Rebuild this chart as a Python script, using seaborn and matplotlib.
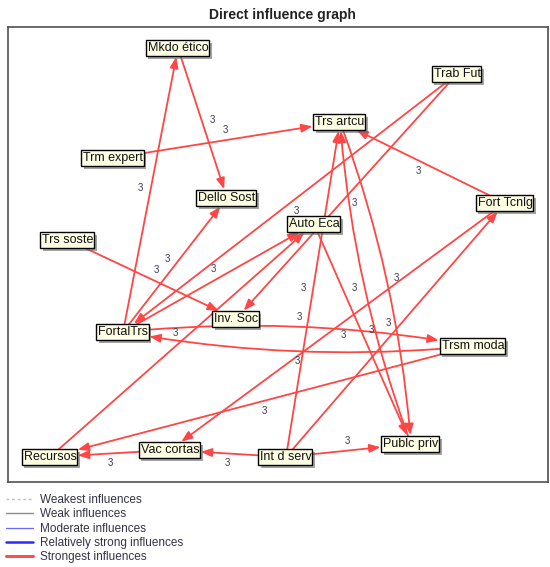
import matplotlib
matplotlib.use("Agg")
import numpy as np
import matplotlib.pyplot as plt
import matplotlib.patheffects as pe
from matplotlib.patches import Rectangle, FancyArrowPatch
from matplotlib.lines import Line2D
import seaborn as sns

# --- data: node layout (picture units) and direct influences ---
node_names = ["Mkdo ético", "Trab Fut", "Trs artcu", "Trm expert", "Dello Sost",
              "Fort Tcnlg", "Auto Eca", "Trs soste", "Inv. Soc", "FortalTrs",
              "Trsm moda", "Publc priv", "Vac cortas", "Int d serv", "Recursos"]
node_x = [178, 457, 340, 113, 227, 505, 314, 68, 236, 123, 473, 411, 170, 286, 50]
node_y = [48, 74, 122, 158, 198, 203, 224, 240, 319, 332, 346, 444, 450, 457, 457]

edge_src = ["FortalTrs", "Mkdo ético", "Trm expert", "FortalTrs", "Trab Fut",
            "Trab Fut", "FortalTrs", "Recursos", "Trs soste", "Fort Tcnlg",
            "Int d serv", "Auto Eca", "Trs artcu", "Publc priv", "FortalTrs",
            "Trsm moda", "Trsm moda", "Vac cortas", "Int d serv", "Int d serv",
            "Int d serv", "Fort Tcnlg"]
edge_dst = ["Mkdo ético", "Dello Sost", "Trs artcu", "Dello Sost", "FortalTrs",
            "Inv. Soc", "Auto Eca", "Auto Eca", "Inv. Soc", "Trs artcu",
            "Trs artcu", "Publc priv", "Publc priv", "Trs artcu", "Trsm moda",
            "FortalTrs", "Recursos", "Recursos", "Vac cortas", "Publc priv",
            "Fort Tcnlg", "Vac cortas"]
edge_weight = [3] * len(edge_src)

legend_labels = ["Weakest influences", "Weak influences", "Moderate influences",
                 "Relatively strong influences", "Strongest influences"]

sns.set_theme(style="white")
plt.rcParams["font.family"] = ["Liberation Sans", "DejaVu Sans"]

W, H = 550, 567
fig = plt.figure(figsize=(W / 100, H / 100), dpi=100)
fig.patch.set_facecolor("white")

# graph frame
ax = fig.add_axes([8 / W, (H - 482) / H, 540 / W, 455 / H])
ax.set_xlim(8, 548)
ax.set_ylim(482, 27)
ax.set_xticks([])
ax.set_yticks([])
for s in ax.spines.values():
    s.set_color("#505050")
    s.set_linewidth(1.2)

fig.text(282 / W, 1 - 15 / H, "Direct influence graph", ha="center", va="center",
         fontsize=10, fontweight="bold", color="#222222")

red = "#ff4646"

# node labels with boxes
renderer = fig.canvas.get_renderer()
inv = ax.transData.inverted()
boxes = {}
pos = {}
for name, x, y in zip(node_names, node_x, node_y):
    pos[name] = (x, y)
    t = ax.text(x, y, name, ha="center", va="center", fontsize=9,
                color="#111111", zorder=5)
    bb = t.get_window_extent(renderer)
    (x0, y0), (x1, y1) = inv.transform([[bb.x0, bb.y0], [bb.x1, bb.y1]])
    lo, hi = min(y0, y1), max(y0, y1)
    rect = Rectangle((x0 - 2, lo - 2), (x1 - x0) + 2.5, (hi - lo) + 4,
                     facecolor="#ffffe4", edgecolor="black", lw=1.0, zorder=4)
    rect.set_path_effects([pe.SimplePatchShadow(offset=(2, -2), shadow_rgbFace="#666666",
                                                alpha=0.6), pe.Normal()])
    ax.add_patch(rect)
    boxes[name] = rect

# influence arrows; pairs of opposite influences are drawn as arcs
pairs = set(zip(edge_src, edge_dst))
for s, d, w in zip(edge_src, edge_dst, edge_weight):
    rad = -0.07 if (d, s) in pairs else 0.0
    (sx, sy), (dx, dy) = pos[s], pos[d]
    arr = FancyArrowPatch((sx, sy), (dx, dy),
                          arrowstyle="-|>,head_length=0.65,head_width=0.25",
                          mutation_scale=10, connectionstyle=f"arc3,rad={rad}",
                          patchA=boxes[s], patchB=boxes[d], shrinkA=0, shrinkB=1,
                          color=red, lw=1.3, zorder=2)
    ax.add_patch(arr)

    # weight label: middle of the link, shifted to the left of its direction
    vx, vy = dx - sx, dy - sy
    length = np.hypot(vx, vy)
    nx, ny = vy / length, -vx / length
    bend = -rad * length * 0.5
    lx = (sx + dx) / 2 + nx * (bend + 10)
    ly = (sy + dy) / 2 + ny * (bend + 10)
    ax.text(lx, ly, str(w), ha="center", va="center", fontsize=7,
            color="#3a3a55", zorder=3)

# legend
handles = [
    Line2D([], [], color="#c0c0c0", lw=1.0, ls=(0, (2, 2))),
    Line2D([], [], color="#8a8a8a", lw=1.0),
    Line2D([], [], color="#6a6aff", lw=0.9),
    Line2D([], [], color="#2a2aff", lw=1.8),
    Line2D([], [], color="#ff5050", lw=2.2),
]
leg = fig.legend(handles, legend_labels, loc="upper left",
                 bbox_to_anchor=(6 / W, 1 - 494 / H), frameon=False, fontsize=8.5,
                 handlelength=2.3, labelspacing=0.2, handletextpad=0.6,
                 borderpad=0, borderaxespad=0)
for txt in leg.get_texts():
    txt.set_color("#333344")

fig.savefig("out.png", dpi=100, facecolor="white")
